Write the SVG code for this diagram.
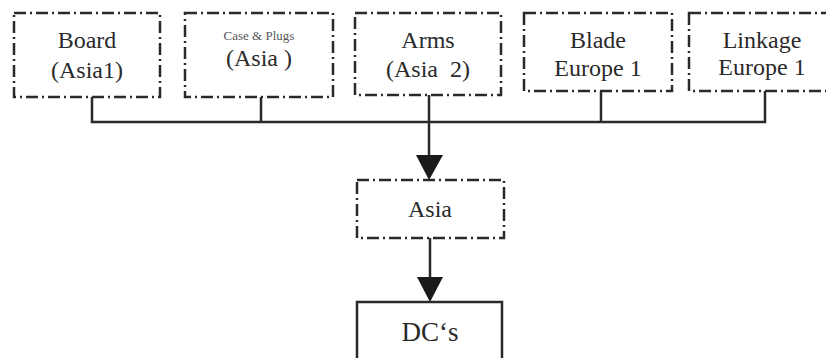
<svg xmlns="http://www.w3.org/2000/svg" width="826" height="358" viewBox="0 0 826 358">
<defs>
<style>
.box{fill:none;stroke:#2a2a2a;stroke-width:2.5;stroke-dasharray:12 4 2 4}
.solid{fill:none;stroke:#2a2a2a;stroke-width:2.5}
.t{font-family:"Liberation Serif",serif;font-size:24px;fill:#2a2a2a;text-anchor:middle}
.s{font-family:"Liberation Serif",serif;font-size:13px;fill:#555;text-anchor:middle}
.ln{fill:none;stroke:#2a2a2a;stroke-width:2.5}
</style>
</defs>
<rect width="826" height="358" fill="#fff"/>
<g id="board"><rect class="box" x="14" y="13" width="146" height="84"/><text class="t" x="87" y="48">Board</text><text class="t" x="87" y="78">(Asia1)</text></g>
<g id="case"><rect class="box" x="185" y="13" width="148" height="84"/><text class="s" x="259" y="40">Case &amp; Plugs</text><text class="t" x="259" y="66">(Asia )</text></g>
<g id="arms"><rect class="box" x="355" y="13" width="146" height="82"/><text class="t" x="428" y="48">Arms</text><text class="t" x="428" y="77" xml:space="preserve">(Asia  2)</text></g>
<g id="blade"><rect class="box" x="524" y="13" width="148" height="78"/><text class="t" x="598" y="48">Blade</text><text class="t" x="598" y="76">Europe 1</text></g>
<g id="linkage"><rect class="box" x="689" y="13" width="148" height="78"/><text class="t" x="762" y="48">Linkage</text><text class="t" x="762" y="75">Europe 1</text></g>
<g id="asia"><rect class="box" x="357" y="180" width="147" height="58"/><text class="t" x="430" y="217">Asia</text></g>
<g id="dcs"><rect class="solid" x="357" y="302" width="145" height="60"/><text class="t" x="430" y="341" style="font-size:27px">DC‘s</text></g>
<g id="connectors">
<path class="ln" d="M92,97 V122 H765 V91"/>
<path class="ln" d="M261,97 V122"/>
<path class="ln" d="M601,91 V122"/>
<path class="ln" d="M429,95 V155"/>
<path d="M416,155 L443,155 L429,180 Z" fill="#1a1a1a"/>
<path class="ln" d="M430,238 V277"/>
<path d="M417,277 L443,277 L430,302 Z" fill="#1a1a1a"/>
</g>
</svg>
